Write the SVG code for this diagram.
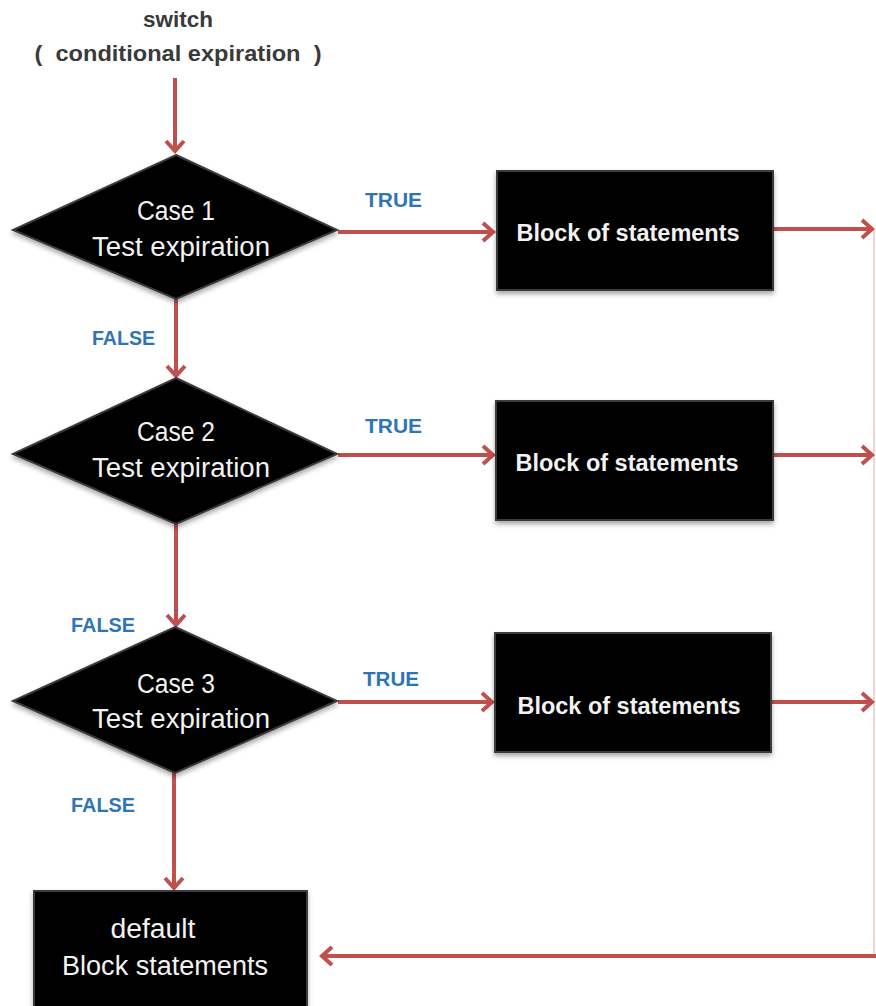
<svg xmlns="http://www.w3.org/2000/svg" width="876" height="1006" viewBox="0 0 876 1006">
<defs>
<style>
.conn{stroke:#C0504D;stroke-width:4;fill:none}
.faint{stroke:#F0D4D4;stroke-width:2;fill:none}
.shape{fill:#000;stroke:#3a3a3a;stroke-width:2}
.wt{fill:#F2F2F2;font-family:"Liberation Sans",Arial,sans-serif;font-size:27px;text-anchor:middle}
.wb{fill:#F2F2F2;font-family:"Liberation Sans",Arial,sans-serif;font-size:23px;font-weight:bold;text-anchor:middle}
.lbl{fill:#2F75B5;font-family:"Liberation Sans",Arial,sans-serif;font-size:20px;font-weight:bold}
.hd{fill:#3A3A3A;font-family:"Liberation Sans",Arial,sans-serif;font-size:22px;font-weight:bold;text-anchor:middle}
</style>
<marker id="arr" markerUnits="userSpaceOnUse" markerWidth="16" markerHeight="20" refX="12" refY="9" orient="auto" overflow="visible">
<path d="M2,0 L12,9 L2,18" fill="none" stroke="#C0504D" stroke-width="4" stroke-linejoin="miter"/>
</marker>
<filter id="sh" x="-10%" y="-10%" width="120%" height="125%">
<feDropShadow dx="0" dy="3" stdDeviation="2.5" flood-color="#000" flood-opacity="0.35"/>
</filter>
</defs>
<rect width="876" height="1006" fill="#fff"/>

<g id="header">
<text class="hd" x="178" y="27" textLength="70" lengthAdjust="spacingAndGlyphs">switch</text>
<text class="hd" x="178" y="61" textLength="287" lengthAdjust="spacingAndGlyphs" xml:space="preserve">(  conditional expiration  )</text>
</g>

<g id="connectors">
<path class="faint" d="M874,230 L874,956"/>
<path class="conn" d="M175,78 L175,151" marker-end="url(#arr)"/>
<path class="conn" d="M338,232 L493,232" marker-end="url(#arr)"/>
<path class="conn" d="M773,229 L872,229" marker-end="url(#arr)"/>
<path class="conn" d="M176,298 L176,376" marker-end="url(#arr)"/>
<path class="conn" d="M338,455 L493,455" marker-end="url(#arr)"/>
<path class="conn" d="M773,455 L872,455" marker-end="url(#arr)"/>
<path class="conn" d="M176,523 L176,625" marker-end="url(#arr)"/>
<path class="conn" d="M338,702 L492,702" marker-end="url(#arr)"/>
<path class="conn" d="M771,702 L872,702" marker-end="url(#arr)"/>
<path class="conn" d="M174,772 L174,888" marker-end="url(#arr)"/>
<path class="conn" d="M876,956 L322,956" marker-end="url(#arr)"/>
</g>

<g id="labels">
<text class="lbl" x="365" y="207" textLength="57" lengthAdjust="spacingAndGlyphs">TRUE</text>
<text class="lbl" x="365" y="433" textLength="57" lengthAdjust="spacingAndGlyphs">TRUE</text>
<text class="lbl" x="363" y="686" textLength="56" lengthAdjust="spacingAndGlyphs">TRUE</text>
<text class="lbl" x="92" y="345" textLength="63" lengthAdjust="spacingAndGlyphs">FALSE</text>
<text class="lbl" x="71" y="632" textLength="64" lengthAdjust="spacingAndGlyphs">FALSE</text>
<text class="lbl" x="71" y="812" textLength="64" lengthAdjust="spacingAndGlyphs">FALSE</text>
</g>

<g id="case1">
<polygon class="shape" filter="url(#sh)" points="176,155 337,230 176,299 13,230"/>
<text class="wt" x="176" y="220" textLength="78" lengthAdjust="spacingAndGlyphs">Case 1</text>
<text class="wt" x="181" y="256" textLength="178" lengthAdjust="spacingAndGlyphs">Test expiration</text>
</g>
<g id="case2">
<polygon class="shape" filter="url(#sh)" points="176,378 337,454 176,524 13,454"/>
<text class="wt" x="176" y="441" textLength="78" lengthAdjust="spacingAndGlyphs">Case 2</text>
<text class="wt" x="181" y="477" textLength="178" lengthAdjust="spacingAndGlyphs">Test expiration</text>
</g>
<g id="case3">
<polygon class="shape" filter="url(#sh)" points="175,627 337,701 175,773 13,701"/>
<text class="wt" x="176" y="693" textLength="78" lengthAdjust="spacingAndGlyphs">Case 3</text>
<text class="wt" x="181" y="728" textLength="178" lengthAdjust="spacingAndGlyphs">Test expiration</text>
</g>

<g id="block1">
<rect class="shape" filter="url(#sh)" x="497" y="171" width="276" height="119"/>
<text class="wb" x="628" y="241" textLength="223" lengthAdjust="spacingAndGlyphs">Block of statements</text>
</g>
<g id="block2">
<rect class="shape" filter="url(#sh)" x="496" y="401" width="277" height="119"/>
<text class="wb" x="627" y="471" textLength="223" lengthAdjust="spacingAndGlyphs">Block of statements</text>
</g>
<g id="block3">
<rect class="shape" filter="url(#sh)" x="495" y="633" width="276" height="119"/>
<text class="wb" x="629" y="714" textLength="223" lengthAdjust="spacingAndGlyphs">Block of statements</text>
</g>
<g id="default">
<rect class="shape" filter="url(#sh)" x="34" y="891" width="273" height="130"/>
<text class="wt" x="153" y="938" textLength="85" lengthAdjust="spacingAndGlyphs">default</text>
<text class="wt" x="165" y="975" textLength="206" lengthAdjust="spacingAndGlyphs">Block statements</text>
</g>
</svg>
